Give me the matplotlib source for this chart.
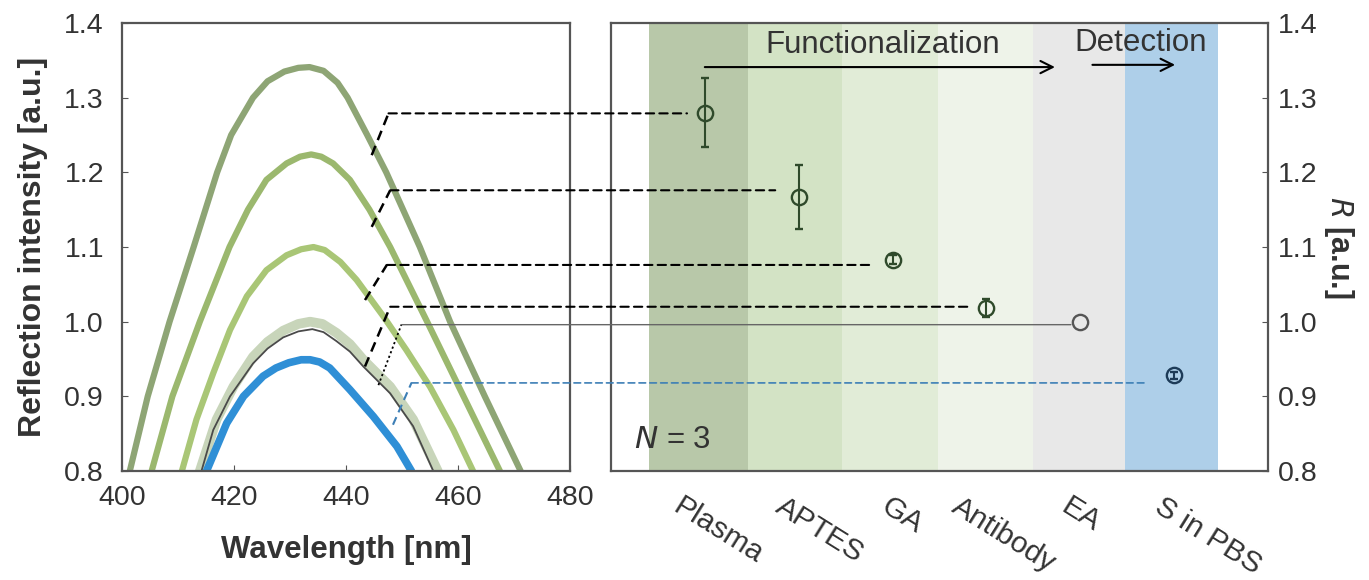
import numpy as np
import matplotlib
matplotlib.use("Agg")
from matplotlib import pyplot as plt
from matplotlib.patches import ConnectionPatch

plt.rcParams['font.family'] = ['Liberation Sans', 'DejaVu Sans']

# spectra (wavelength nm, intensity a.u.)
wl_plasma = [401.4, 404.6, 408.5, 412.8, 417.0, 419.5, 423.4, 426.0, 429.0, 431.5, 433.5,
             436.0, 438.5, 440.3, 443.8, 447.2, 453.2, 458.6, 464.8, 471.2]
i_plasma = [0.80, 0.90, 1.00, 1.10, 1.20, 1.25, 1.30, 1.322, 1.335, 1.340, 1.341,
            1.336, 1.32, 1.30, 1.25, 1.20, 1.10, 1.00, 0.90, 0.80]

wl_aptes = [405.3, 409.0, 413.9, 419.2, 422.5, 425.8, 429.4, 431.8, 433.8,
            435.6, 437.7, 440.7, 444.2, 447.9, 454.5, 461.0, 467.5]
i_aptes = [0.80, 0.90, 1.00, 1.10, 1.15, 1.19, 1.212, 1.221, 1.224,
           1.221, 1.212, 1.19, 1.15, 1.10, 1.00, 0.90, 0.80]

wl_ga = [410.7, 413.3, 416.3, 419.3, 422.3, 425.8, 429.4, 432.0, 434.2, 436.2, 439.0, 441.9,
         446.7, 450.8, 455.0, 459.2, 462.7]
i_ga = [0.80, 0.869, 0.931, 0.989, 1.034, 1.069, 1.089, 1.097, 1.100, 1.096, 1.080, 1.056,
        1.007, 0.962, 0.913, 0.855, 0.80]

wl_ab = [413.9, 416.9, 419.9, 423.4, 426.0, 428.8, 431.5, 433.6, 435.8, 438.3, 440.7,
         443.1, 447.9, 452.0, 456.4]
i_ab = [0.80, 0.869, 0.913, 0.953, 0.973, 0.988, 0.997, 1.000, 0.997, 0.985, 0.970,
        0.949, 0.913, 0.869, 0.80]

wl_ea = [414.2, 416.3, 419.3, 423.4, 426.0, 428.8, 431.5, 434.0, 436.0, 438.3, 440.7,
         443.1, 447.9, 452.0, 455.6]
i_ea = [0.80, 0.855, 0.900, 0.944, 0.964, 0.979, 0.987, 0.990, 0.986, 0.974, 0.960,
        0.940, 0.904, 0.860, 0.80]

wl_pbs = [415.1, 418.7, 421.7, 425.2, 427.5, 429.8, 432.0, 433.6, 435.3, 437.1, 440.7,
          444.9, 449.1, 451.7]
i_pbs = [0.80, 0.864, 0.900, 0.927, 0.938, 0.945, 0.949, 0.949, 0.946, 0.938, 0.909,
         0.873, 0.833, 0.80]

# right panel
steps = ["Plasma", "APTES", "GA", "Antibody", "EA", "S in PBS"]
R = [1.280, 1.167, 1.083, 1.018, 1.000, 0.928]
R_err = [0.046, 0.043, 0.006, 0.012, 0.0, 0.005]

# leader lines: start on the curve, bend, level, end near the point
lead_start = [(444.6, 1.223), (444.6, 1.127), (443.4, 1.029), (443.4, 0.940), (445.8, 0.915), (448.4, 0.862)]
lead_bend_x = [447.6, 447.9, 447.3, 447.9, 449.9, 451.7]
lead_y = [1.279, 1.176, 1.076, 1.020, 0.996, 0.918]
lead_end_x = [0.81, 1.75, 2.79, 3.85, 4.9, 5.71]

curve_colors = ["#8ea575", "#9bb86e", "#a9c676", "#c8d5ba", "#4a4a4a", "#2f8fd6"]
curve_lw = [4.5, 4.5, 4.5, 7.0, 1.3, 5.5]
band_colors = ["#b8c8a9", "#d3e3c5", "#e1ecd7", "#eef3e9", "#e8e8e8", "#aecfe9"]
band_edges = [0.4, 1.46, 2.46, 3.48, 4.5, 5.48, 6.47]
marker_colors = ["#2f4a2b", "#2f4a2b", "#2f4a2b", "#2f4a2b", "#555555", "#1d3b58"]
lead_styles = [("k", (0, (4, 2.5)), 1.5)] * 4 + [("#666666", "-", 1.0), ("#3d7fb6", (0, (4, 2.5)), 1.2)]

txt = "#333333"
fig = plt.figure(figsize=(13.69, 5.8), dpi=100)
ax1 = fig.add_axes([0.0891, 0.1879, 0.3272, 0.7724])
ax2 = fig.add_axes([0.4463, 0.1879, 0.4799, 0.7724])

curves = [(wl_plasma, i_plasma), (wl_aptes, i_aptes), (wl_ga, i_ga), (wl_ab, i_ab), (wl_ea, i_ea), (wl_pbs, i_pbs)]
for (x, y), c, lw in zip(curves, curve_colors, curve_lw):
    ax1.plot(x, y, color=c, lw=lw, solid_capstyle='round', solid_joinstyle='round')

ax1.set_xlim(400, 480)
ax1.set_ylim(0.8, 1.4)
ax1.set_xticks([400, 420, 440, 460, 480])
ax1.set_yticks(np.arange(0.8, 1.41, 0.1))
ax1.yaxis.set_major_formatter(plt.FormatStrFormatter('%.1f'))
ax1.tick_params(direction='in', length=4, labelsize=20.5, labelcolor=txt, color="#555555")
ax1.tick_params(axis='x', pad=10)
ax1.tick_params(axis='y', pad=13)
ax1.set_xlabel("Wavelength [nm]", fontsize=22.5, fontweight='bold', color=txt, labelpad=17)
ax1.set_ylabel("Reflection intensity [a.u.]", fontsize=23, fontweight='bold', color=txt, labelpad=12)

for i in range(len(steps)):
    ax2.axvspan(band_edges[i], band_edges[i + 1], color=band_colors[i], lw=0, zorder=0)

pos = np.arange(1, len(steps) + 1)
for i in range(len(steps)):
    ax2.errorbar(pos[i], R[i], yerr=R_err[i] if R_err[i] > 0 else None, fmt='o', ms=11, mfc='none',
                 mec=marker_colors[i], mew=1.7, ecolor=marker_colors[i], elinewidth=1.5, capsize=3,
                 capthick=1.5, zorder=4)

ax2.set_xlim(0, 7)
ax2.set_ylim(0.8, 1.4)
ax2.set_xticks([])
ax2.set_yticks(np.arange(0.8, 1.41, 0.1))
ax2.yaxis.set_major_formatter(plt.FormatStrFormatter('%.1f'))
ax2.yaxis.tick_right()
ax2.yaxis.set_label_position('right')
ax2.tick_params(direction='in', length=4, labelsize=20.5, labelcolor=txt, color="#555555", pad=7)
ax2.set_ylabel("$\\mathbf{\\mathit{R}}$ [a.u.]", fontsize=22, fontweight='bold', color=txt,
               rotation=-90, labelpad=28)

label_x = [0.77, 1.86, 2.98, 3.74, 4.9, 5.9]
for lx, s in zip(label_x, steps):
    ax2.text(lx, 0.772, s, rotation=-32, rotation_mode='anchor', ha='left', va='top',
             fontsize=21.5, color=txt, clip_on=False)

ax2.annotate("", xy=(4.76, 1.341), xytext=(0.97, 1.341),
             arrowprops=dict(arrowstyle='->', color='k', lw=1.5, mutation_scale=22))
ax2.annotate("", xy=(6.04, 1.344), xytext=(5.1, 1.344),
             arrowprops=dict(arrowstyle='->', color='k', lw=1.5, mutation_scale=22))
ax2.text(2.9, 1.371, "Functionalization", fontsize=22.5, color=txt, ha='center', va='center')
ax2.text(5.64, 1.373, "Detection", fontsize=22.5, color=txt, ha='center', va='center')
ax2.text(0.25, 0.842, "$N$ = 3", fontsize=22.5, color=txt, ha='left', va='center')

for (sx, sy), bx, ly, ex, (c, ls, lw) in zip(lead_start, lead_bend_x, lead_y, lead_end_x, lead_styles):
    slant_ls = (0, (1.2, 1.5)) if ls == "-" else ls
    slant_c = 'k' if ls == "-" else c
    ax1.plot([sx, bx], [sy, ly], color=slant_c, ls=slant_ls, lw=lw + 0.3, zorder=5)
    con = ConnectionPatch(xyA=(bx, ly), coordsA=ax1.transData, xyB=(ex, ly), coordsB=ax2.transData,
                          color=c, ls=ls, lw=lw, zorder=5)
    fig.add_artist(con)

for ax in (ax1, ax2):
    for sp in ax.spines.values():
        sp.set_color("#555555")
        sp.set_linewidth(1.6)

fig.savefig("out.png", dpi=100)
